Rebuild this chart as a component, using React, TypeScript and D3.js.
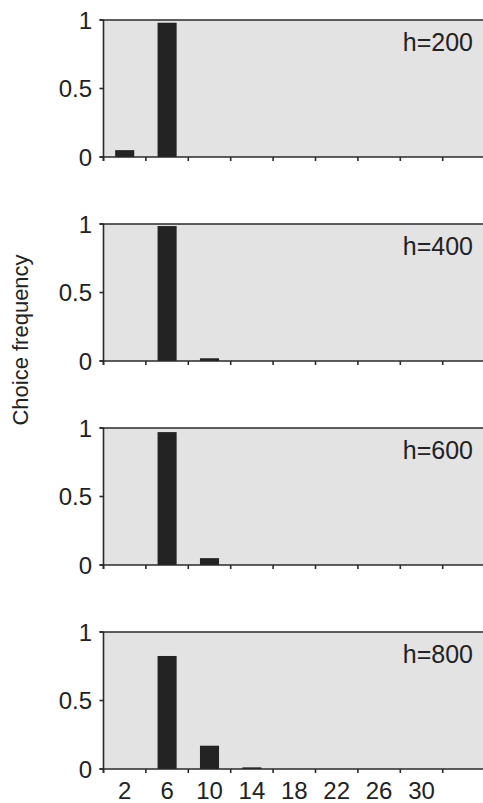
import React from "react";
import * as d3 from "d3";

const bins = [2, 6, 10, 14, 18, 22, 26, 30, 34];
const tickLabels = ["2", "6", "10", "14", "18", "22", "26", "30"];
const panelLabels = ["h=200", "h=400", "h=600", "h=800"];
const freqH200 = [0.05, 0.98, 0, 0, 0, 0, 0, 0, 0];
const freqH400 = [0, 0.985, 0.02, 0, 0, 0, 0, 0, 0];
const freqH600 = [0, 0.97, 0.05, 0, 0, 0, 0, 0, 0];
const freqH800 = [0, 0.825, 0.17, 0.012, 0, 0, 0, 0, 0];
const series = [freqH200, freqH400, freqH600, freqH800];
const yTicks = [0, 0.5, 1];

const W = 483;
const H = 803;
const FONT = "'Liberation Sans', Arial, Helvetica, sans-serif";

export default function App() {
  const x = d3.scaleLinear().domain([0, 36]).range([103.5, 485.1]);
  const panelTop = [20, 224, 428, 632];
  const panelH = 137;
  const axisColor = "#2a2a2a";
  const edgeTicks = d3.range(0, 37, 4);

  return (
    <svg width={W} height={H} style={{ position: "absolute", left: 0, top: 0 }}>
      <rect x={0} y={0} width={W} height={H} fill="#fff" />
      {series.map((vals, pi) => {
        const top = panelTop[pi];
        const y = d3.scaleLinear().domain([0, 1]).range([top + panelH, top]);
        return (
          <g key={pi}>
            <rect x={x(0)} y={y(1)} width={x(36) - x(0)} height={y(0) - y(1)} fill="#e3e3e3" />
            {vals.map((v, i) =>
              v > 0 ? (
                <rect
                  key={i}
                  x={x(bins[i] - 0.9)}
                  y={y(v)}
                  width={x(bins[i] + 0.9) - x(bins[i] - 0.9)}
                  height={y(0) - y(v)}
                  fill="#232323"
                />
              ) : null
            )}
            <line x1={x(0) - 4} x2={x(36)} y1={y(1)} y2={y(1)} stroke={axisColor} strokeWidth={1.6} />
            <line x1={x(0) - 4} x2={x(36)} y1={y(0)} y2={y(0)} stroke={axisColor} strokeWidth={1.6} />
            <line x1={x(0)} x2={x(0)} y1={y(1)} y2={y(0) + 4} stroke={axisColor} strokeWidth={1.6} />
            {yTicks.map((t) => (
              <g key={t}>
                <line x1={x(0) - 4} x2={x(0)} y1={y(t)} y2={y(t)} stroke={axisColor} strokeWidth={1.6} />
                <text
                  x={92}
                  y={y(t)}
                  dy="0.36em"
                  textAnchor="end"
                  fontFamily={FONT}
                  fontSize={24}
                  fill="#222"
                >
                  {t === 0.5 ? "0.5" : String(t)}
                </text>
              </g>
            ))}
            {edgeTicks.map((t) => (
              <line key={t} x1={x(t)} x2={x(t)} y1={y(0)} y2={y(0) + 4} stroke={axisColor} strokeWidth={1.6} />
            ))}
            <text
              x={473}
              y={top + 31}
              textAnchor="end"
              fontFamily={FONT}
              fontSize={25}
              fill="#222"
            >
              {panelLabels[pi]}
            </text>
          </g>
        );
      })}
      {tickLabels.map((l, i) => (
        <text
          key={l}
          x={x(bins[i])}
          y={799}
          textAnchor="middle"
          fontFamily={FONT}
          fontSize={24}
          fill="#222"
        >
          {l}
        </text>
      ))}
      <text
        transform={`translate(28, 340) rotate(-90)`}
        textAnchor="middle"
        fontFamily={FONT}
        fontSize={22}
        fill="#222"
      >
        Choice frequency
      </text>
    </svg>
  );
}
